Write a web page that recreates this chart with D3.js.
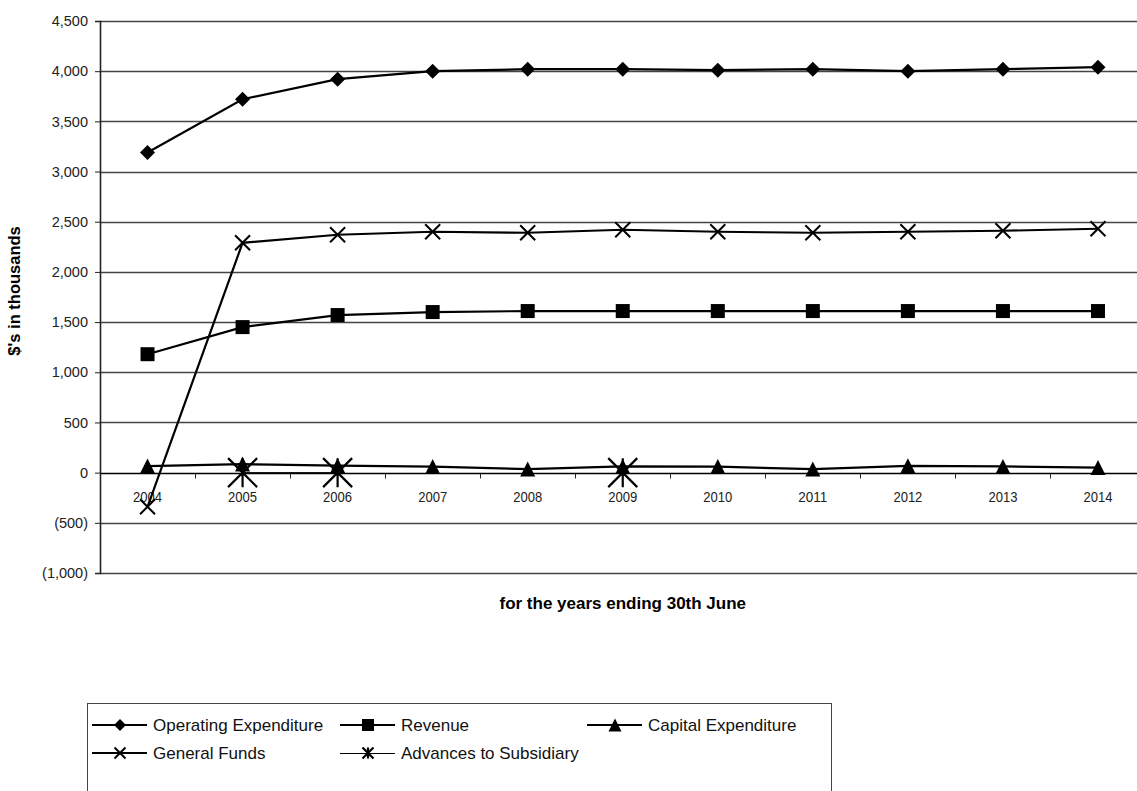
<!DOCTYPE html>
<html lang="en">
<head>
<meta charset="UTF-8">
<title>Expenditure and revenue</title>
<script src="https://cdn.jsdelivr.net/npm/d3@7"></script>
<style>
  body { margin: 0; background: #fff; }
  svg { display: block; font-family: "Liberation Sans", Arial, sans-serif; }
</style>
</head>
<body>
<svg id="chart" width="1137" height="791"></svg>
<script>
// data
var years = ["2004","2005","2006","2007","2008","2009","2010","2011","2012","2013","2014"];
var operating = [3190, 3720, 3920, 4000, 4020, 4020, 4010, 4020, 4000, 4020, 4040];
var revenue = [1180, 1450, 1570, 1600, 1610, 1610, 1610, 1610, 1610, 1610, 1610];
var capital = [65, 85, 70, 60, 35, 62, 60, 35, 68, 62, 50];
var generalFunds = [-340, 2290, 2370, 2400, 2390, 2420, 2400, 2390, 2400, 2410, 2430];
var advances = [null, 0, 0, null, null, 0, null, null, null, null, null];
var yTicks = [-1000, -500, 0, 500, 1000, 1500, 2000, 2500, 3000, 3500, 4000, 4500];

var series = [
  {name: "Operating Expenditure", values: operating, marker: "diamond", width: 2.2},
  {name: "Revenue", values: revenue, marker: "square", width: 2.2},
  {name: "Capital Expenditure", values: capital, marker: "triangle", width: 2.2},
  {name: "General Funds", values: generalFunds, marker: "x", width: 2.2},
  {name: "Advances to Subsidiary", values: advances, marker: "star", width: 1}
];

var svg = d3.select("#chart");

// plot box (right edge runs past the window, as in the reference)
var plotL = 100, plotR = 1145.5, plotT = 21, plotB = 573;

var x = d3.scaleBand().domain(years).range([plotL, plotR]).padding(0);
var y = d3.scaleLinear().domain([-1000, 4500]).range([plotB, plotT]);

function fmt(v) {
  var s = d3.format(",")(Math.abs(v));
  return v < 0 ? "(" + s + ")" : s;
}

// gridlines
svg.append("g").selectAll("line")
  .data(yTicks)
  .enter().append("line")
  .attr("x1", plotL).attr("x2", 1137)
  .attr("y1", function(d) { return Math.round(y(d)) + 0.5; })
  .attr("y2", function(d) { return Math.round(y(d)) + 0.5; })
  .attr("stroke", function(d) { return d === 0 ? "#000" : "#444"; })
  .attr("stroke-width", 1.3);

// y axis
var yAxis = svg.append("g")
  .attr("transform", "translate(" + plotL + ",0)")
  .call(d3.axisLeft(y).tickValues(yTicks).tickFormat(fmt).tickSize(5).tickPadding(7));
yAxis.select(".domain").attr("stroke", "#222").attr("stroke-width", 1.6);
yAxis.selectAll(".tick line").attr("stroke", "#222");
yAxis.selectAll("text").attr("font-size", 14.5).attr("fill", "#222")
  .attr("font-family", "Liberation Sans, Arial, sans-serif");

// x axis at zero, ticks on band edges
var xAxis = svg.append("g")
  .attr("transform", "translate(0," + (Math.round(y(0)) + 0.5) + ")");
xAxis.selectAll("line.edge")
  .data(years.slice(1))
  .enter().append("line")
  .attr("class", "edge")
  .attr("x1", function(d) { return Math.round(x(d)) + 0.5; })
  .attr("x2", function(d) { return Math.round(x(d)) + 0.5; })
  .attr("y1", 0).attr("y2", 5)
  .attr("stroke", "#222");
xAxis.selectAll("text")
  .data(years)
  .enter().append("text")
  .attr("x", function(d) { return x(d) + x.bandwidth() / 2; })
  .attr("y", 28)
  .attr("text-anchor", "middle")
  .attr("font-size", 15.5)
  .attr("textLength", 29)
  .attr("lengthAdjust", "spacingAndGlyphs")
  .attr("fill", "#222")
  .text(function(d) { return d; });

// titles
svg.append("text")
  .attr("transform", "translate(20," + ((plotT + plotB) / 2 - 6) + ") rotate(-90)")
  .attr("text-anchor", "middle")
  .attr("font-size", 16.5).attr("font-weight", "bold")
  .text("$'s in thousands");

svg.append("text")
  .attr("x", (plotL + plotR) / 2)
  .attr("y", 609)
  .attr("text-anchor", "middle")
  .attr("font-size", 17).attr("font-weight", "bold")
  .text("for the years ending 30th June");

// marker drawing
function drawMarker(g, type, s) {
  if (type === "diamond") {
    g.append("path").attr("d", "M0," + (-s / 2) + "L" + (s / 2) + ",0L0," + (s / 2) + "L" + (-s / 2) + ",0Z").attr("fill", "#000");
  } else if (type === "square") {
    g.append("rect").attr("x", -s / 2).attr("y", -s / 2).attr("width", s).attr("height", s).attr("fill", "#000");
  } else if (type === "triangle") {
    g.append("path").attr("d", "M0," + (-s / 2) + "L" + (s / 2) + "," + (s / 2) + "L" + (-s / 2) + "," + (s / 2) + "Z").attr("fill", "#000");
  } else if (type === "x") {
    var h = s / 2;
    g.append("path").attr("d", "M" + (-h) + "," + (-h) + "L" + h + "," + h + "M" + h + "," + (-h) + "L" + (-h) + "," + h)
      .attr("stroke", "#000").attr("stroke-width", 2).attr("fill", "none");
  } else if (type === "star") {
    var k = s / 2;
    g.append("path").attr("d", "M" + (-k) + "," + (-k) + "L" + k + "," + k + "M" + k + "," + (-k) + "L" + (-k) + "," + k + "M0," + (-k) + "L0," + k)
      .attr("stroke", "#000").attr("stroke-width", 2.2).attr("fill", "none");
  }
}

var markerSize = {diamond: 15, square: 14, triangle: 15, x: 15, star: 29};
var legendSize = {diamond: 12, square: 12, triangle: 13, x: 11, star: 11};

var line = d3.line()
  .defined(function(d) { return d.v !== null; })
  .x(function(d) { return x(d.year) + x.bandwidth() / 2; })
  .y(function(d) { return y(d.v); });

series.forEach(function(s) {
  var pts = years.map(function(yr, i) { return {year: yr, v: s.values[i]}; });
  var g = svg.append("g");
  g.append("path")
    .datum(pts)
    .attr("d", line)
    .attr("fill", "none")
    .attr("stroke", "#000")
    .attr("stroke-width", s.width);
  pts.filter(function(d) { return d.v !== null; }).forEach(function(d) {
    var m = g.append("g")
      .attr("transform", "translate(" + (x(d.year) + x.bandwidth() / 2) + "," + y(d.v) + ")");
    drawMarker(m, s.marker, markerSize[s.marker]);
  });
});

// legend
var legend = svg.append("g");
legend.append("rect")
  .attr("x", 87.5).attr("y", 703.5)
  .attr("width", 744).attr("height", 110)
  .attr("fill", "none").attr("stroke", "#444").attr("stroke-width", 1);

var colX = [92, 340, 587];
var rowY = [725, 753];
series.forEach(function(s, i) {
  var cx = colX[i % 3], cy = rowY[Math.floor(i / 3)];
  var item = legend.append("g").attr("transform", "translate(" + cx + "," + cy + ")");
  var ly = s.width === 1 ? 0.5 : 0;
  item.append("line").attr("x1", 0).attr("x2", 55).attr("y1", ly).attr("y2", ly)
    .attr("stroke", "#000").attr("stroke-width", s.width);
  var m = item.append("g").attr("transform", "translate(28,0)");
  drawMarker(m, s.marker, legendSize[s.marker]);
  item.append("text")
    .attr("x", 61).attr("y", 6)
    .attr("font-size", 17)
    .attr("fill", "#111")
    .text(s.name);
});
</script>
</body>
</html>
